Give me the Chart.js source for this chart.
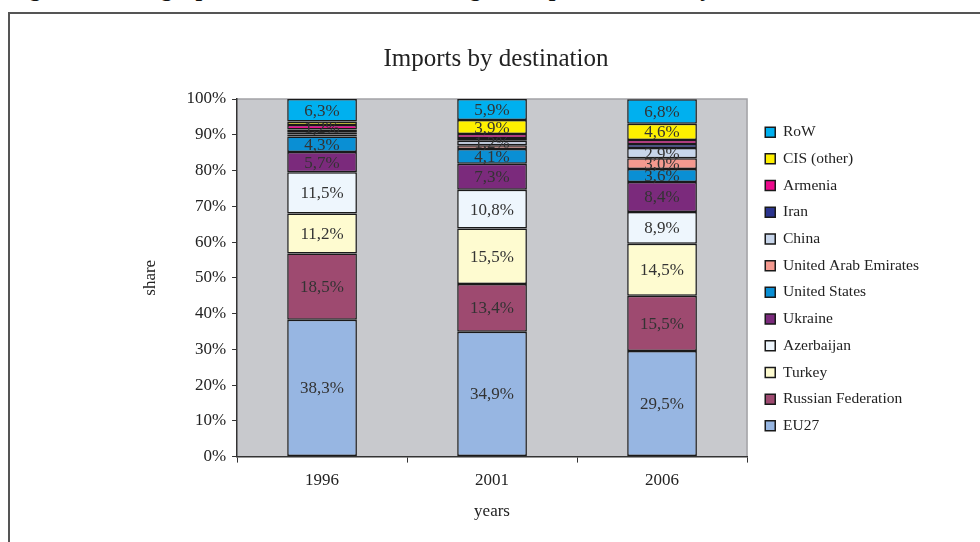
<!DOCTYPE html>
<html>
<head>
<meta charset="utf-8">
<script src="https://cdn.jsdelivr.net/npm/chart.js@4"></script>
<style>
  html, body { margin: 0; padding: 0; background: #fff; overflow: hidden; }
  body { width: 980px; height: 542px; position: relative; }
  #caption {
    position: absolute; left: 8px; top: -24px; white-space: nowrap;
    font: bold 24px "Liberation Serif", serif; line-height: 24px; color: #111;
  }
  #frame {
    position: absolute; left: 8px; top: 12px; width: 1000px; height: 600px;
    border: 2px solid #555;
  }
  #wrap { position: absolute; left: 10px; top: 30px; width: 970px; height: 505px; }
</style>
</head>
<body>
<div id="caption">Figure 45: Geographical distribution of Georgia's imports, selected years</div>
<div id="frame"></div>
<div id="wrap"><canvas id="myChart"></canvas></div>
<script>
// categories
const years = ['1996', '2001', '2006'];

// shares in % per partner (bottom to top of the stack)
const eu27       = [38.3, 34.9, 29.5];
const russia     = [18.5, 13.4, 15.5];
const turkey     = [11.2, 15.5, 14.5];
const azerbaijan = [11.5, 10.8, 8.9];
const ukraine    = [5.7, 7.3, 8.4];
const usa        = [4.3, 4.1, 3.6];
const uae        = [0.6, 1.1, 3.0];
const china      = [0.6, 1.2, 2.9];
const iran       = [0.8, 0.8, 1.1];
const armenia    = [1.2, 1.1, 1.1];
const cisOther   = [1.0, 3.9, 4.6];
const row        = [6.3, 5.9, 6.8];

// y axis tick labels
const yTicks = [0, 10, 20, 30, 40, 50, 60, 70, 80, 90, 100];

// segments smaller than this are not labelled
const minLabel = 1.2;

const serif = '"Liberation Serif", "DejaVu Serif", serif';

function series(label, data, color) {
    return {
        label: label,
        data: data,
        backgroundColor: color,
        borderColor: '#1a1a1a',
        borderWidth: 1.5,
        borderSkipped: false,
        barPercentage: 0.41,
        categoryPercentage: 1
    };
}

// grey plot area with light top/right border
const plotBackground = {
    id: 'plotBackground',
    beforeDraw(chart) {
        const {ctx, chartArea: a} = chart;
        ctx.save();
        ctx.fillStyle = '#c8c9cd';
        ctx.fillRect(a.left, a.top, a.right - a.left, a.bottom - a.top);
        ctx.strokeStyle = '#a2a2a6';
        ctx.lineWidth = 1.5;
        ctx.beginPath();
        ctx.moveTo(a.left, a.top);
        ctx.lineTo(a.right, a.top);
        ctx.lineTo(a.right, a.bottom);
        ctx.stroke();
        ctx.restore();
    }
};

// nudge the legend a little right and down
const legendGap = {
    id: 'legendGap',
    afterLayout(chart) {
        chart.legend.left += 7;
        chart.legend.right += 7;
        chart.legend.top += 3;
        chart.legend.bottom += 3;
    }
};

// percentage labels in the middle of each segment
const segmentLabels = {
    id: 'segmentLabels',
    afterDatasetsDraw(chart) {
        const ctx = chart.ctx;
        ctx.save();
        ctx.font = '17px ' + serif;
        ctx.fillStyle = '#333';
        ctx.textAlign = 'center';
        ctx.textBaseline = 'middle';
        chart.data.datasets.forEach((ds, i) => {
            chart.getDatasetMeta(i).data.forEach((bar, j) => {
                const v = ds.data[j];
                if (v < minLabel) return;
                ctx.fillText(v.toFixed(1).replace('.', ',') + '%', bar.x, (bar.y + bar.base) / 2 + 1);
            });
        });
        ctx.restore();
    }
};

const ctx = document.getElementById('myChart').getContext('2d');
window.myChart = new Chart(ctx, {
    type: 'bar',
    data: {
        labels: years,
        datasets: [
            series('EU27', eu27, '#97b6e2'),
            series('Russian Federation', russia, '#9e4a70'),
            series('Turkey', turkey, '#fefbd0'),
            series('Azerbaijan', azerbaijan, '#eef6fd'),
            series('Ukraine', ukraine, '#7b2a7c'),
            series('United States', usa, '#0a8fd4'),
            series('United Arab Emirates', uae, '#f4998f'),
            series('China', china, '#c8d6eb'),
            series('Iran', iran, '#2b348e'),
            series('Armenia', armenia, '#ec0a8c'),
            series('CIS (other)', cisOther, '#fff000'),
            series('RoW', row, '#00b0ef')
        ]
    },
    options: {
        responsive: true,
        maintainAspectRatio: false,
        animation: false,
        layout: { padding: { left: 60, right: 58, top: 0, bottom: 13 } },
        plugins: {
            title: {
                display: true,
                text: 'Imports by destination',
                color: '#222',
                font: { family: serif, size: 25, weight: 'normal' },
                padding: { top: 14, bottom: 25 }
            },
            legend: {
                position: 'right',
                reverse: true,
                labels: {
                    color: '#222',
                    font: { family: serif, size: 15.5 },
                    boxWidth: 10,
                    boxHeight: 10,
                    padding: 11.2
                }
            },
            tooltip: { enabled: false }
        },
        scales: {
            x: {
                stacked: true,
                grid: { offset: true, drawOnChartArea: false, tickLength: 6, color: '#333' },
                border: { color: '#333', width: 1.5 },
                ticks: { color: '#222', font: { family: serif, size: 17 }, padding: 7.8 },
                title: {
                    display: true, text: 'years', color: '#222',
                    font: { family: serif, size: 17 }, padding: { top: 3, bottom: 0 }
                }
            },
            y: {
                stacked: true,
                min: 0,
                max: 100,
                afterBuildTicks(scale) {
                    scale.ticks = yTicks.map(v => ({ value: v }));
                },
                grid: { drawOnChartArea: false, tickLength: 5, color: '#333' },
                border: { color: '#333', width: 1.5 },
                ticks: {
                    color: '#222', font: { family: serif, size: 17 }, padding: 6,
                    callback: v => v + '%'
                },
                title: {
                    display: true, text: 'share', color: '#222',
                    font: { family: serif, size: 17 }, padding: { top: 70, bottom: 20 }
                }
            }
        }
    },
    plugins: [plotBackground, legendGap, segmentLabels]
});
</script>
</body>
</html>
